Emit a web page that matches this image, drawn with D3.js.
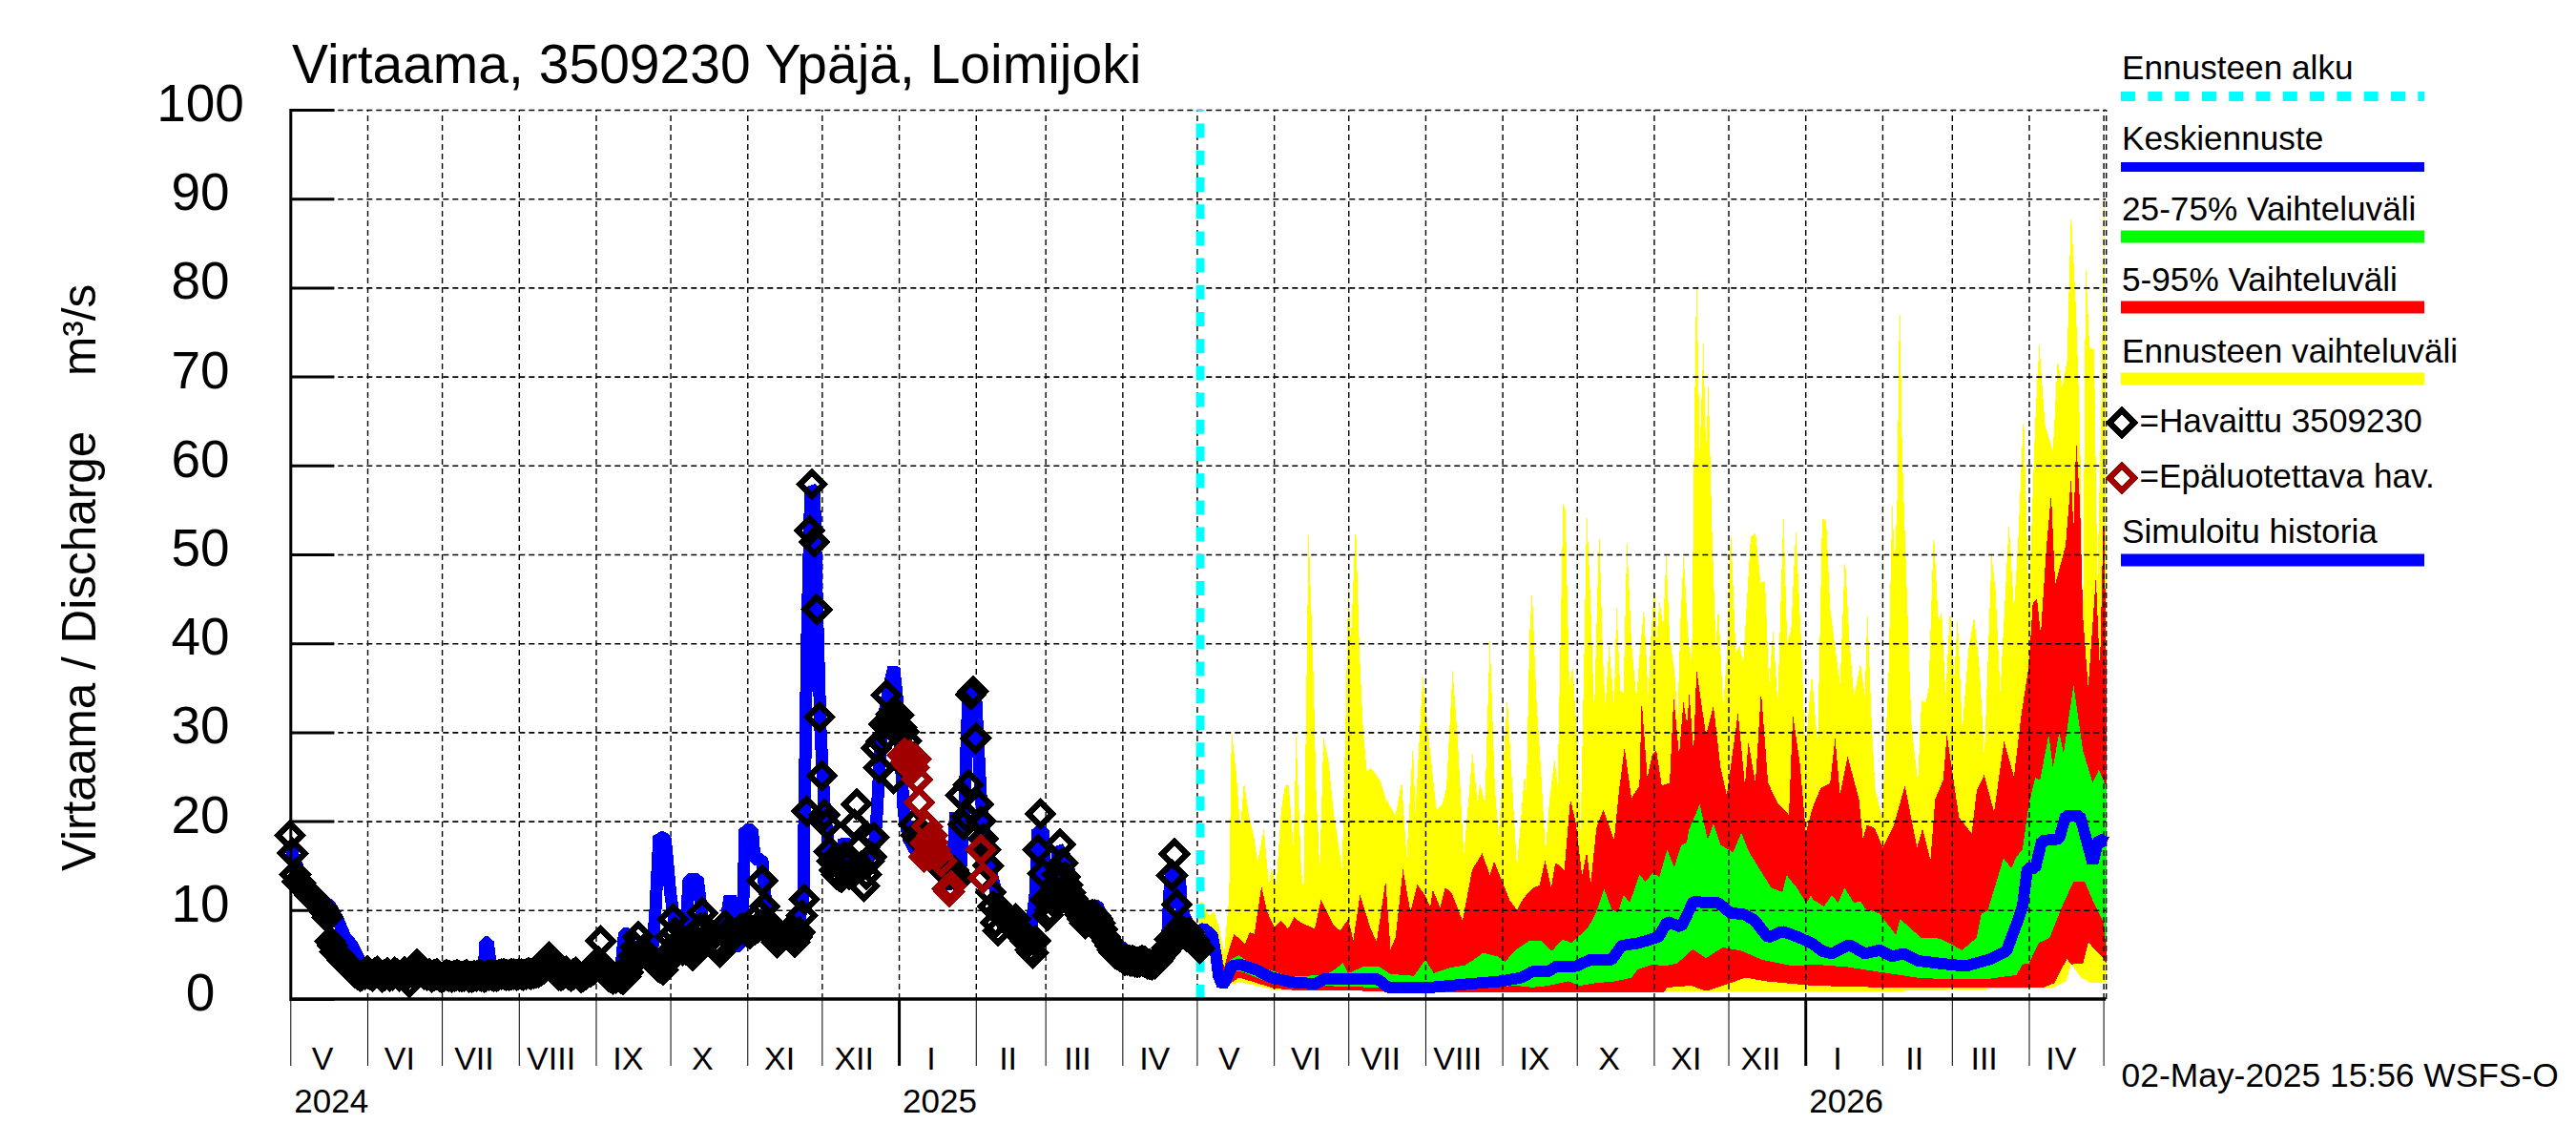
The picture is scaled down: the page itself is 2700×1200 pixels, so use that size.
<!DOCTYPE html>
<html>
<head>
<meta charset="utf-8">
<title>Virtaama 3509230</title>
<script src="https://cdnjs.cloudflare.com/ajax/libs/d3/7.8.5/d3.min.js"></script>
<style>
  html, body { margin: 0; padding: 0; background: #fff; }
  text { font-family: "Liberation Sans", Arial, sans-serif; fill: #000; }
</style>
</head>
<body>
<div id="canvas"></div>
<script>
"use strict";

// Values. Days count from 1 May 2024 (history) or from 2 May 2025 (forecast).
let yTicks = [0, 10, 20, 30, 40, 50, 60, 70, 80, 90, 100];
let monthNames = ["V", "VI", "VII", "VIII", "IX", "X", "XI", "XII", "I", "II", "III", "IV",
    "V", "VI", "VII", "VIII", "IX", "X", "XI", "XII", "I", "II", "III", "IV"];
let monthStarts = [0, 31, 61, 92, 123, 153, 184, 214, 245, 276, 304, 335,
    365, 396, 426, 457, 488, 518, 549, 579, 610, 641, 669, 700, 730];
let yearStarts = [245, 610];
let yearLabels = [{ day: 0, label: "2024" }, { day: 245, label: "2025" }, { day: 610, label: "2026" }];

// Ennusteen vaihteluvali, upper edge
let yellowTopDays = [0, 1, 4, 6, 8, 10, 12, 13, 15, 16.5, 18, 20, 22, 23.5, 26, 28, 29, 31, 33, 34.5, 36, 38, 39, 41, 42, 44, 46, 47, 48.5, 50,
    52, 54, 56, 57.5, 59, 60, 61, 63, 64.5, 66, 67.5, 69, 71, 73, 75, 79, 81.5, 83.5, 86, 87, 90, 92.5, 95.5, 98, 99.5, 102, 104, 106.5, 110, 112,
    113, 115, 117, 119, 120.5, 122, 124, 126, 127.9, 131, 131.7, 133, 134, 135.6, 137.5, 139.4, 141, 143, 144.3, 146.5, 147.4, 149, 150.3, 152.2, 153.5, 155, 156, 157.6,
    159, 161, 162.5, 163.5, 165, 167, 168, 169.5, 170.8, 172.2, 174, 176, 177.2, 179, 180.8, 181.7, 183.2, 184.2, 185.3, 186.8, 188, 189.4, 191.3, 192.6, 193.8, 195, 197, 198.3,
    199.3, 200.2, 201.5, 203, 204, 205, 206.3, 208, 209, 210.9, 212.4, 214, 216, 217.5, 219, 222, 224, 226, 227.8, 229.4, 231, 232.9, 235.2, 236.7, 238.3, 240.2, 242.2, 244, 246.6,
    249, 250.8, 252.4, 254, 256, 258, 260, 261.7, 263.6, 266.2, 268, 269, 270.7, 272.2, 275, 277.5, 279, 280, 281, 282, 283, 284.8, 286.7, 289.3, 290.8, 292.5, 293.7, 295.7,
    297.6, 298.9, 300.5, 302.3, 304, 305.3, 307.2, 309.7, 312, 314.2, 316.1, 319, 320.6, 322.5, 326, 328, 329.6, 331.9, 334, 336.6, 338.2, 340.5, 343.7, 345.6, 347.5, 349.4,
    351, 353, 354.6, 355.8, 356.9, 358.4, 360.3, 361.6, 363.1, 364.5, 365.4];
let yellowTop = [10.7, 11, 9.4, 9.8, 8, 5.2, 11.5, 30.4, 25, 19, 24.5, 20.6, 18.3, 15.4, 19.2, 12.8, 14.7, 12.9, 21.3, 24, 24, 16.8, 29.8, 14.7, 12, 52.7, 36, 23.8, 14.5, 29.4,
    26.8, 21.3, 17.5, 14.5, 32.3, 46.8, 40, 53.7, 39, 30, 25.5, 26, 25.3, 24.5, 22.6, 20.6, 24.5, 15.8, 28.7, 21, 36.4, 29, 21.3, 22, 23.8, 37, 29.4, 16.2, 27.7, 22.2,
    24.3, 22, 40.6, 23.8, 18.3, 24.3, 34, 24, 14.8, 25.4, 23, 41.2, 46, 34.4, 26, 16.5, 22.4, 27, 24, 55.7, 55, 35, 37.5, 28.8, 18.7, 38.9, 55, 44,
    32, 53, 38.4, 33, 39.8, 33, 44.3, 34.7, 34.4, 51.6, 40, 33.9, 38.4, 44, 34, 40, 46.5, 40.6, 44.7, 42, 50, 40.6, 37, 31.6, 42.9, 50, 40, 37.8,
    63.7, 82, 61.4, 73.8, 61.4, 69.3, 54, 39.5, 44.3, 32.8, 38.4, 53, 38.9, 39.8, 37.8, 52, 52.4, 46.8, 47, 35.3, 41.5, 33.3, 54.8, 40, 41.5, 52.9, 41, 27.7, 36.6,
    28.5, 54, 53.8, 44, 39.6, 35.4, 49.9, 40.5, 34, 37.8, 34, 43.7, 31, 23.4, 20.4, 36.3, 55.9, 49, 56.2, 79.6, 61.6, 46.6, 31, 24.3, 33.6, 33.3, 35, 52.6,
    42.4, 43.6, 34, 44, 36.3, 43, 30.3, 39.3, 43, 37, 27, 49.9, 46, 34.5, 53.5, 43.8, 50.8, 66, 44, 65, 73.6, 64.6, 61.6, 71.8, 68.8, 71.8,
    88.6, 77.5, 64, 41, 83, 73.3, 73, 47, 65, 92.8, 34];

// Ennusteen vaihteluvali, lower edge
let yellowLowDays = [0, 5, 8, 10, 16, 23, 30, 90, 275, 344, 349, 351, 355, 359, 363, 365.4];
let yellowLow = [6.8, 6, 2, 1.4, 1.9, 1.5, 1, 0.85, 0.85, 1.3, 2, 3.9, 2.4, 1.8, 1.8, 2];

// 5-95 %
let redTopDays = [0, 1, 5, 7.5, 10, 12, 14, 16.5, 18.4, 20.3, 22.2, 25, 27.3, 30.3, 33, 35.7, 38.2, 40.8, 46.5, 49, 54, 56.7, 60, 62, 64.7, 69, 71.4, 75, 77, 79,
    82, 85, 87.8, 91.2, 93, 94, 97, 99, 101.5, 106, 109.8, 113.9, 117, 118.7, 122, 125, 128, 129.3, 131.7, 134.3, 137, 139.2, 141.7, 143.3, 145.2, 147, 149.4, 151.6, 154.1, 156,
    157.6, 159.9, 162.7, 167, 168.9, 171.2, 174, 177.2, 178.1, 180.4, 182.3, 184, 186.2, 189.4, 191, 193.2, 194.9, 196.4, 197.3, 199, 200.2, 204, 207, 209.9, 212.4, 216.9, 219.7, 221.1, 223.9, 226.2,
    229, 232.9, 237.4, 239, 241.9, 244.2, 247, 250.2, 254, 256, 258, 261, 265.6, 267.2, 268.8, 272, 275.2, 279.7, 284.1, 289, 291.2, 294.4, 296.3, 299.5, 301, 305.9, 311, 313, 316, 320,
    324, 328, 330.9, 334, 335.6, 337.3, 338.8, 341, 343, 344.6, 348.8, 351, 352, 353.1, 354.6, 355.8, 357.9, 361, 362.6, 364.2, 365.4];
let redTop = [7.8, 8.6, 8.1, 7.3, 3.5, 5.6, 7.3, 6.7, 6.2, 7.5, 7.3, 12.7, 9.8, 8.1, 8.8, 7.9, 9.2, 8.6, 7.9, 11.2, 8.3, 7.7, 9, 6.6, 11.7, 7.9, 6.4, 13.3, 5.6, 6.9,
    14.6, 9.8, 12.9, 11.5, 10.3, 12.3, 10.3, 12.5, 12, 8.8, 14.5, 16.4, 13.9, 15.5, 13.2, 11.1, 10, 10.8, 11.7, 12.5, 12.8, 15.6, 12.5, 15.3, 15, 14.5, 22.5, 19.8, 13.9, 16.5,
    13, 19.3, 21.3, 17.9, 23.2, 28.3, 22.6, 24, 33.6, 24.9, 27.4, 28, 24, 24.3, 34, 27.4, 33.4, 31, 34.4, 27.7, 37, 29.7, 33, 26, 22.9, 32.2, 24, 28.9, 24.3, 34.6,
    24.3, 22, 20.7, 32, 26.3, 18.7, 21.6, 23.7, 24.3, 29.4, 23, 27.3, 22.5, 18, 19.6, 19.2, 17, 19.6, 24, 17, 19.2, 15.6, 22.5, 24.6, 29.7, 20.4, 18.6, 23.4, 25.2, 21,
    29, 25, 31.8, 37.5, 44.5, 45, 41, 50.5, 56.8, 46.6, 51, 58.6, 53, 62.8, 55.6, 43, 35, 47.5, 37, 56, 34];
let redLowDays = [0, 5, 8, 10, 16, 22, 30, 40, 60, 90, 120, 152, 187, 188.4, 198, 204, 210.7, 220, 228, 247, 275, 340, 344.3, 347, 349.4, 351, 355.8, 358, 361, 363.5, 365.4];
let redLow = [7, 6, 2.2, 1.3, 2.4, 1.9, 1.2, 0.95, 0.95, 0.75, 0.75, 0.75, 0.75, 1.3, 1.5, 0.9, 1.5, 2.4, 2, 1.5, 1.3, 1.3, 1.8, 3.3, 4.5, 3.9, 4, 6.4, 5.4, 4.8, 3.9];

// 25-75 %
let greenTopDays = [0, 2, 5, 7, 10, 12.4, 16, 19.6, 26, 35.5, 43.5, 51.5, 55.5, 57.8, 60, 66.6, 72, 77, 86.5, 91, 94.4, 100.8, 107, 110.4, 114.3, 120, 123, 127.9, 132.6, 138,
    142, 146.2, 150, 153.3, 156.5, 159.7, 163, 166, 168.5, 170.9, 173.3, 177.2, 179.6, 182.8, 185.2, 188.4, 191.2, 194, 196.3, 197.1, 201.5, 204.7, 207, 209.9, 215, 218.2, 221.4, 226.5, 230.3, 234.8,
    236.5, 240.6, 244.4, 246.3, 247, 251.5, 254.7, 257.2, 259.8, 263.6, 266.2, 268, 273.9, 280.5, 282.2, 290.5, 298.2, 307.2, 313, 314.9, 317.4, 323.8, 327, 329, 331.5, 332.8, 334, 336.6, 338.5, 342,
    343.7, 346.2, 348, 352, 355.8, 359.7, 362.2, 365.4];
let greenTop = [7.7, 7.8, 7, 5, 2.6, 4.4, 4.9, 4.2, 3.5, 2.6, 2.6, 2.8, 3.5, 4.1, 2.9, 3.7, 3.7, 2.8, 2.6, 4.4, 2.9, 3.5, 3.8, 4.4, 5.2, 4.8, 4.2, 5.6, 6.5, 6.5,
    5.4, 6.7, 6.3, 7.2, 8, 9.7, 12.4, 10.1, 9.7, 11.7, 10.8, 14, 13.2, 14.2, 13.7, 16.8, 14.8, 17.3, 17.6, 19, 21.9, 17.9, 19.7, 17.3, 16.5, 18.7, 16.5, 14.2, 12.5, 12,
    13.9, 12.5, 10.8, 11.7, 11.2, 10.4, 11.7, 10.8, 12.5, 10.8, 11, 10.2, 9.6, 7.2, 9, 6.9, 6.8, 5.5, 6.9, 9.6, 9.9, 15.8, 14.7, 16, 16.8, 19.5, 21.9, 24.9, 24.6, 29.7,
    26, 30, 27.6, 35.3, 27.9, 24.3, 25.8, 23.7];
let greenLowDays = [0, 5, 8, 10, 14, 18, 25, 35, 60, 90, 100, 128, 134, 140.6, 148.6, 153, 159.7, 167.7, 174, 176.4, 182.8, 186.8, 192.4, 198.7, 204, 210.7, 218.6, 226.6, 239.4, 247,
    261, 275, 289, 303, 316, 329, 331.5, 334, 338, 342.4, 348, 352, 356.5, 359.7, 364, 365.4];
let greenLow = [7.2, 6.4, 2.4, 2.4, 3.2, 3, 2.2, 1.6, 1.4, 1.1, 1.1, 1.5, 1.3, 1.5, 2, 1.5, 1.8, 2, 2.4, 3.3, 3.9, 3.7, 4, 5.6, 4.6, 5.8, 5.4, 4.4, 3.7, 3.9,
    3.6, 3, 2.4, 2.2, 2.2, 2.7, 3.9, 4, 6.3, 6.9, 10.8, 13.2, 13.2, 11.1, 8.7, 5];

// Keskiennuste
let meanDays = [0, 1.8, 5.3, 6.6, 7.7, 9.3, 10.9, 13, 16.4, 22.8, 29.2, 37, 46.7, 50.7, 61, 72, 76, 93, 108.8, 121.5, 129.5, 134.3, 140.6, 143.8, 151.8, 157.3, 166, 170, 177, 185,
    188.4, 194, 199, 204, 209, 213.8, 219.4, 223.4, 229, 234.6, 240.9, 247, 250.8, 254.7, 261.7, 268, 273.9, 279, 283.5, 289.3, 298.2, 308.5, 318.7, 325, 329, 331.5, 333.4, 336.6, 339.2, 346.2,
    348.8, 354.6, 359.7, 362.2, 365.4];
let meanFlow = [7.6, 8, 7.1, 5.1, 2.6, 1.5, 2.2, 3.7, 3.9, 3.3, 2.4, 1.9, 1.7, 2.3, 2.3, 2.2, 1.3, 1.3, 1.7, 2, 2.4, 3.1, 3.1, 3.7, 3.7, 4.4, 4.4, 6, 6.3, 7,
    8.7, 8.1, 11, 10.8, 10.8, 9.7, 9.5, 8.9, 6.9, 7.6, 7, 6.2, 5.4, 5.1, 6.1, 5.1, 5.5, 4.8, 5.1, 4.3, 4, 3.7, 4.5, 5.4, 8.4, 10.5, 14.7, 14.7, 17.8, 18,
    20.6, 20.6, 15.3, 18, 17.6];

// Simuloitu historia
let simDays = [0, 4, 8, 12, 16, 19, 22, 25, 29, 34, 50, 70, 78, 78.5, 79.5, 81, 95, 110, 125, 130, 133, 134.5, 136, 138, 146, 147, 148.5, 151, 153, 155,
    157, 159, 160.5, 164, 166, 169, 172, 175, 177, 179, 181, 182.5, 183, 186, 187, 190, 192, 195, 200, 204, 206.5, 208, 209.5, 211, 212, 213.5, 215, 217, 222, 223,
    226, 231, 233, 235, 236, 238, 241, 243, 245, 246, 247, 249, 252, 258, 263, 266, 268, 270, 271.5, 273, 276, 278, 280, 282, 285, 290, 294, 298, 300, 301,
    303, 304, 308, 309, 312, 316, 320, 325, 330, 340, 350, 353, 354, 355, 358, 359, 362, 366];
let simFlow = [17, 14, 12.5, 11.2, 10.5, 9, 7, 6, 3.8, 2.9, 2.7, 2.6, 3, 6.4, 6.4, 3, 2.7, 2.7, 2.8, 2.8, 3, 7.4, 7.4, 4, 6, 10, 18.3, 18, 12, 8,
    6.5, 7, 13.5, 13.5, 9, 7.5, 8, 8, 11.6, 6, 6, 12, 19, 19, 15.7, 15.7, 9, 8, 7.5, 7.5, 11, 40, 57.5, 57, 45, 30, 22, 16, 14, 18,
    15, 14, 16, 17, 20, 30, 35, 37.3, 32, 26, 21, 18, 16.5, 15, 14, 12.5, 21, 15, 22, 34.5, 34, 23, 17, 14.5, 11, 9.8, 9, 7, 12, 19,
    19, 12, 11, 17, 16, 12, 10.5, 10.5, 7, 4.5, 4.5, 6, 12, 14.5, 14, 10, 8, 7.2];

// Havaittu 3509230, one value a day from day 0, null where there is no mark
let obsFlow = [
    18.4, 16.4, 14, 13.2, 13, 12.6, 12.3, 12, 11.7, 11.4, 11.1, 10.8, 10.5, 10.2, 9.8, 9.2, 6.5, 6, 5.3, 5, 4.8, 4.4, 4.2, 3.9, 3.5, 3.2, 3, 2.8, 2.6, 2.7, 2.8,
    3.1, 2.8, 2.6, 2.9, 3.1, 2.8, 2.5, 2.7, 2.9, 2.6, 2.7, 3, 2.8, 2.6, 2.8, 3, 2.7, 1.9, 3.1, 3.3, 3.9, 3.4, 3, 2.8, 2.7, 2.8, 2.5, 2.7, 2.8, 2.6,
    2.4, 2.6, 2.7, 2.6, 2.5, 2.6, 2.7, 2.6, 2.5, 2.6, 2.7, 2.5, 2.5, 2.6, 2.6, 2.7, 2.6, 2.5, 2.6, 2.7, 2.7, 2.6, 2.6, 2.7, 2.8, 2.8, 2.7, 2.7, 2.8, 2.8, 2.7,
    2.8, 2.8, 2.7, 2.8, 2.9, 2.8, 2.9, 3, 3, 3.2, 3.4, 3.9, 4.7, 4, 3.4, 3, 2.7, 2.6, 2.8, 3.1, 2.8, 2.6, 2.8, 3, 2.7, 2.4, 2.6, 2.8, 3, 3.1, 3.3,
    3.6, 4.2, 6.5, 3.5, 3, 2.6, 2.4, 2.3, 2.4, 2.6, 2.4, 2.2, 2.5, 3, 3.8, 4.8, 5.8, 7, 5, 5.5, 5.2, 5, 4.6, 4.3, 4, 3.7, 3.5, 3.3, 4, 5,
    7, 9, 7.5, 6.3, 6, 5.5, 5.6, 5.7, 5.2, 4.9, 5.6, 6.5, 8, 9.7, 8, 7, 7.4, 7, 6.2, 5.5, 5.3, 5.8, 8.3, 7.5, 7.2, 7, 7.2, 7.5, 7.8, 8, 7.8,
    7.6, 7.4, 7.6, 7.8, 8, 9.5, 13.3, 10.4, 8.7, 7.5, 7.2, 7, 6.4, 6.7, 7, 7.2, 7.4, 7, 6.7, 6.4, 7, 7.5, 9.4, 11.2, 21.1, 52.7, 57.9, 51.4, 43.8, 31.7,
    25.1, 20.7, 19.6, 16.6, 15.5, 14.5, 14, 13.8, 13.7, 16, 15, 14, 15.5, 19.6, 21.9, 17, 14.9, 12.7, 14, 15.5, 16, 18.2, 28.2, 26, 29, 30.9, 34.2, 31, 32, 24.8, 31,
    31.9, 30.5, 30, 29, null, null, 19.6, 18.4, 18, 18, 17.5, 17.5, 17, 16.5, 16, 15.7, 15.4, 14.9, 14.5, 14.2, 14, 14, 14.5, 14, 13.5, 22.9, 19.6, 20.5, 24.1, 34.2, 34.6,
    29.3, 21.9, 20, 18, 16.8, 15, 12, 10.4, 8.6, 7.7, 10, 9.5, 9, 8.7, 8.5, 8, 9, 8, 7.5, 7.2, 6.5, 6.3, 5.5, 5.2, 6.5, 16.8, 20.8, 14.1,
    11.2, 9.4, 10, 11, 12, 14, 17.4, 15.3, 13.7, 12.8, 12, 11.3, 10.8, 10, 9.5, 9, 8.5, 8.8, 9.2, 9.5, 9.4, 9, 8.5, 7.8, 7, 6.5, 6, 5.5, 5.2, 5, 4.8,
    4.6, 4.4, 4.4, 4.3, 4.3, 4.2, 4.1, 4.2, 4.3, 4.2, 4, 3.9, 3.9, 4, 4.2, 4.6, 5, 5.3, 5.7, 6.7, 13.9, 16.3, 10.6, 8, 7.6, 7.5, 7, 7.5, 6.8, 6.6, 6, 5.7
];

// Epaluotettava hav.
let badDays = [246.5, 247.4, 248, 248.5, 249, 249.5, 250, 250.5, 251, 251.9, 252.3, 253.2, 255.1, 255.8, 256.4, 257, 257.5, 258, 258.3, 258.4, 259, 259.6, 260.5, 262.1, 264.6, 265.3, 265.7, 266, 278.1, 279];
let badFlow = [27.4, 27.6, 26.6, 27.2, 26.2, 27.4, 26.4, 27, 26, 27, 24.7, 22.1, 16, 17.5, 19.4, 16.2, 16.2, 17.6, 18.4, 17.6, 16.6, 16.8, 16.2, 15.5, 12.4, 12.1, 12.6, 12.7, 16.8, 13.6];

let legendItems = [
    { label: "Ennusteen alku", color: "#00ffff", base: 83, line: 101, width: 10, dash: "15,13.3" },
    { label: "Keskiennuste", color: "#0000ff", base: 157, line: 175, width: 10 },
    { label: "25-75% Vaihteluväli", color: "#00ff00", base: 231, line: 248, width: 13 },
    { label: "5-95% Vaihteluväli", color: "#ff0000", base: 305, line: 322, width: 13 },
    { label: "Ennusteen vaihteluväli", color: "#ffff00", base: 380, line: 397, width: 13 },
    { label: "Simuloitu historia", color: "#0000ff", base: 569, line: 587, width: 13 }
];

// Canvas
let svgWidth = 2700;
let svgHeight = 1200;
let plot = { left: 304.3, right: 2207.2, top: 115, bottom: 1047 };
let obsColor = "#000000";
let badColor = "#a00000";

let svg = d3.select("#canvas")
    .append("svg")
    .attr("width", svgWidth)
    .attr("height", svgHeight)
    .style("display", "block");

// Scales
let day0 = Date.UTC(2024, 4, 1);
let dayToDate = d => new Date(day0 + d * 864e5);
let fcStart = 366;

let xScale = d3.scaleUtc()
    .domain([dayToDate(0), dayToDate(731)])
    .range([plot.left, plot.right]);

let yScale = d3.scaleLinear()
    .domain([0, 100])
    .range([plot.bottom, plot.top]);

let line = d3.line()
    .x(d => xScale(dayToDate(d[0])))
    .y(d => yScale(d[1]));

let zip = (days, vals, offset) => days.map((d, i) => [d + offset, vals[i]]);

// Closed band between an upper and a lower edge
function band(topDays, top, lowDays, low, color) {
    let pts = zip(topDays, top, fcStart).concat(zip(lowDays, low, fcStart).reverse());
    svg.append("path")
        .attr("d", line(pts) + "Z")
        .attr("fill", color)
        .attr("shape-rendering", "crispEdges");
}

band(yellowTopDays, yellowTop, yellowLowDays, yellowLow, "#ffff00");
band(redTopDays, redTop, redLowDays, redLow, "#ff0000");
band(greenTopDays, greenTop, greenLowDays, greenLow, "#00ff00");

// Grid, dashed, on top of the bands
let yGrid = svg.append("g")
    .attr("transform", `translate(${plot.left},0)`)
    .call(d3.axisLeft(yScale).tickValues(yTicks.slice(1)).tickSize(-(plot.right - plot.left)).tickFormat(""));
yGrid.select(".domain").remove();
yGrid.selectAll("line")
    .attr("stroke", "#000")
    .attr("stroke-width", 1.6)
    .attr("stroke-dasharray", "6,4");

let xGrid = svg.append("g")
    .attr("transform", `translate(0,${plot.bottom})`)
    .call(d3.axisBottom(xScale)
        .tickValues(monthStarts.slice(1).map(dayToDate).concat([dayToDate(731)]))
        .tickSize(-(plot.bottom - plot.top))
        .tickFormat(""));
xGrid.select(".domain").remove();
xGrid.selectAll("line")
    .attr("stroke", "#000")
    .attr("stroke-width", 1.4)
    .attr("stroke-dasharray", "6,4");

// Forecast mean
svg.append("path")
    .attr("d", line(zip(meanDays, meanFlow, fcStart)))
    .attr("fill", "none")
    .attr("stroke", "#0000ff")
    .attr("stroke-width", 12)
    .attr("stroke-linejoin", "bevel")
    .attr("shape-rendering", "crispEdges");

// Forecast start
svg.append("line")
    .attr("x1", xScale(dayToDate(fcStart)) + 1)
    .attr("x2", xScale(dayToDate(fcStart)) + 1)
    .attr("y1", plot.bottom)
    .attr("y2", plot.top)
    .attr("stroke", "#00ffff")
    .attr("stroke-width", 9)
    .attr("stroke-dasharray", "15,13.2");

// Simulated history
svg.append("path")
    .attr("d", line(zip(simDays, simFlow, 0)))
    .attr("fill", "none")
    .attr("stroke", "#0000ff")
    .attr("stroke-width", 13)
    .attr("stroke-linejoin", "bevel")
    .attr("shape-rendering", "crispEdges");

// Diamonds
let diamond = d3.symbol().type(d3.symbolSquare).size(320);

function diamonds(points, color) {
    svg.append("g")
        .selectAll("path")
        .data(points)
        .join("path")
        .attr("d", diamond)
        .attr("transform", d => `translate(${xScale(dayToDate(d[0]))},${yScale(d[1])}) rotate(45)`)
        .attr("fill", "none")
        .attr("stroke", color)
        .attr("stroke-width", 6.4)
        .attr("shape-rendering", "crispEdges");
}

diamonds(obsFlow.map((v, i) => [i, v]).filter(d => d[1] !== null), obsColor);
diamonds(zip(badDays, badFlow, 0), badColor);

// Left axis with thick ticks, labels centred over each other
let yAxis = svg.append("g")
    .attr("transform", `translate(${plot.left},0)`)
    .call(d3.axisLeft(yScale).tickValues(yTicks).tickSize(-46).tickPadding(0));
yAxis.select(".domain")
    .attr("stroke", "#000")
    .attr("stroke-width", 3);
yAxis.selectAll("line")
    .attr("stroke", "#000")
    .attr("stroke-width", 3);
yAxis.selectAll("text")
    .attr("x", 210 - plot.left)
    .attr("y", 0)
    .attr("dy", 11.5)
    .attr("text-anchor", "middle")
    .style("font-size", "55px")
    .style("font-family", "'Liberation Sans', Arial, sans-serif");

// Bottom axis, month ticks hang down
let xAxis = svg.append("g")
    .attr("transform", `translate(0,${plot.bottom})`)
    .call(d3.axisBottom(xScale).tickValues(monthStarts.map(dayToDate)).tickSize(70).tickFormat(""));
xAxis.select(".domain")
    .attr("d", `M${plot.left},0H${plot.right}`)
    .attr("stroke", "#000")
    .attr("stroke-width", 3.5);
xAxis.selectAll("line")
    .attr("stroke", "#000")
    .attr("stroke-width", d => yearStarts.includes(Math.round((d - day0) / 864e5)) ? 3 : 1);

// Month labels
monthNames.forEach((name, i) => {
    svg.append("text")
        .attr("x", xScale(dayToDate(monthStarts[i] + 13)))
        .attr("y", 1120.5)
        .attr("text-anchor", "middle")
        .style("font-size", "34px")
        .text(name);
});

yearLabels.forEach(d => {
    svg.append("text")
        .attr("x", xScale(dayToDate(d.day)) + 4)
        .attr("y", 1165.5)
        .style("font-size", "35px")
        .text(d.label);
});

// Title and side labels
svg.append("text")
    .attr("x", 306)
    .attr("y", 87)
    .style("font-size", "57px")
    .text("Virtaama, 3509230 Ypäjä, Loimijoki");

svg.append("text")
    .attr("transform", "translate(100,913) rotate(-90)")
    .style("font-size", "49.5px")
    .text("Virtaama / Discharge");

svg.append("text")
    .attr("transform", "translate(100,394) rotate(-90)")
    .style("font-size", "49.5px")
    .text("m³/s");

svg.append("text")
    .attr("x", 2223.6)
    .attr("y", 1139)
    .style("font-size", "35.4px")
    .text("02-May-2025 15:56 WSFS-O");

// Legend
let legendX = 2223;
let legendEnd = 2541;

legendItems.forEach(item => {
    svg.append("text")
        .attr("x", legendX + 1)
        .attr("y", item.base)
        .style("font-size", "35.2px")
        .text(item.label);
    svg.append("line")
        .attr("x1", legendX)
        .attr("x2", legendEnd)
        .attr("y1", item.line)
        .attr("y2", item.line)
        .attr("stroke", item.color)
        .attr("stroke-width", item.width)
        .attr("stroke-dasharray", item.dash || null);
});

[{ label: "=Havaittu 3509230", color: obsColor, y: 443, base: 453 },
 { label: "=Epäluotettava hav.", color: badColor, y: 501, base: 511 }].forEach(item => {
    svg.append("path")
        .attr("d", diamond)
        .attr("transform", `translate(${legendX + 1},${item.y}) rotate(45)`)
        .attr("fill", "none")
        .attr("stroke", item.color)
        .attr("stroke-width", 6.4)
        .attr("shape-rendering", "crispEdges");
    svg.append("text")
        .attr("x", 2242.4)
        .attr("y", item.base)
        .style("font-size", "35.2px")
        .text(item.label);
});
</script>
</body>
</html>
